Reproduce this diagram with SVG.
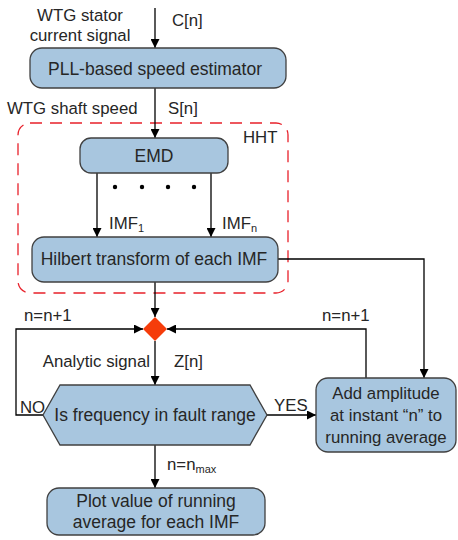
<svg xmlns="http://www.w3.org/2000/svg" width="458" height="540" viewBox="0 0 458 540">
<style>
.box{fill:#a8c6df;stroke:#404040;stroke-width:1.3}
.t{font-family:"Liberation Sans",Arial,sans-serif;font-size:16.8px;fill:#262626}
.b{font-size:17.5px}
.s{font-size:16.8px}
.m{text-anchor:middle}
.ln{fill:none;stroke:#000;stroke-width:1.3}
</style>
<defs>
<marker id="ah" viewBox="0 0 10 10" refX="10" refY="5" markerWidth="9" markerHeight="9" markerUnits="userSpaceOnUse" orient="auto">
<path d="M0,0 L10,5 L0,10 z" fill="#000"/>
</marker>
</defs>
<rect width="458" height="540" fill="#fff"/>
<g id="hht">
<rect x="18" y="123" width="270" height="170" rx="12" fill="none" stroke="#e8202a" stroke-width="1.3" stroke-dasharray="12,8"/>
<text class="t" x="243" y="143">HHT</text>
</g>
<g id="connectors">
<line class="ln" x1="155" y1="8" x2="155" y2="48" marker-end="url(#ah)"/>
<line class="ln" x1="155" y1="88" x2="155" y2="138" marker-end="url(#ah)"/>
<line class="ln" x1="97" y1="173" x2="97" y2="237" marker-end="url(#ah)"/>
<line class="ln" x1="211" y1="173" x2="211" y2="237" marker-end="url(#ah)"/>
<line class="ln" x1="155" y1="282" x2="155" y2="317" marker-end="url(#ah)"/>
<polyline class="ln" points="278,259 424,259 424,378" marker-end="url(#ah)"/>
<line class="ln" x1="155" y1="341" x2="155" y2="385" marker-end="url(#ah)"/>
<polyline class="ln" points="43,415 16,415 16,329 143,329" marker-end="url(#ah)"/>
<polyline class="ln" points="366,378 366,329 167,329" marker-end="url(#ah)"/>
<line class="ln" x1="266" y1="415" x2="316" y2="415" marker-end="url(#ah)"/>
<line class="ln" x1="155" y1="445" x2="155" y2="488" marker-end="url(#ah)"/>
<g fill="#000">
<circle cx="115" cy="187" r="2.2"/><circle cx="142" cy="187" r="2.2"/><circle cx="168" cy="187" r="2.2"/><circle cx="194" cy="187" r="2.2"/>
</g>
<text class="t m" x="80" y="21">WTG stator</text>
<text class="t m" x="80" y="41">current signal</text>
<text class="t" x="172" y="26">C[n]</text>
<text class="t" x="7" y="114">WTG shaft speed</text>
<text class="t" x="168" y="114">S[n]</text>
<text class="t" x="109" y="229">IMF<tspan font-size="11" dy="3">1</tspan></text>
<text class="t" x="222" y="229">IMF<tspan font-size="11" dy="3">n</tspan></text>
<text class="t" x="24" y="321">n=n+1</text>
<text class="t" x="322" y="321">n=n+1</text>
<text class="t" x="150" y="367" text-anchor="end">Analytic signal</text>
<text class="t" x="174" y="367">Z[n]</text>
<text class="t" x="20" y="413">NO</text>
<text class="t" x="274" y="411">YES</text>
<text class="t" x="167" y="470">n=n<tspan font-size="11" dy="3">max</tspan></text>
</g>
<g id="pll">
<rect class="box" x="30" y="48" width="256" height="40" rx="12"/>
<text class="t b m" x="155" y="75">PLL-based speed estimator</text>
</g>
<g id="emd">
<rect class="box" x="80" y="138" width="148" height="35" rx="11"/>
<text class="t b m" x="154" y="162">EMD</text>
</g>
<g id="hilbert">
<rect class="box" x="32" y="237" width="246" height="45" rx="12"/>
<text class="t b m" x="154" y="265">Hilbert transform of each IMF</text>
</g>
<g id="merge">
<polygon points="155,317 167,329 155,341 143,329" fill="#f53c0a"/>
</g>
<g id="decision">
<polygon class="box" points="60,385 250,385 267,415 250,445 60,445 43,415"/>
<text class="t b m" x="155" y="421">Is frequency in fault range</text>
</g>
<g id="add">
<rect class="box" x="316" y="378" width="140" height="74" rx="12"/>
<text class="t s m" x="386" y="399">Add amplitude</text>
<text class="t s m" x="386" y="421">at instant “n” to</text>
<text class="t s m" x="386" y="443">running average</text>
</g>
<g id="plot">
<rect class="box" x="47" y="488" width="218" height="47" rx="12"/>
<text class="t b m" x="156" y="507">Plot value of running</text>
<text class="t b m" x="156" y="528">average for each IMF</text>
</g>
</svg>
